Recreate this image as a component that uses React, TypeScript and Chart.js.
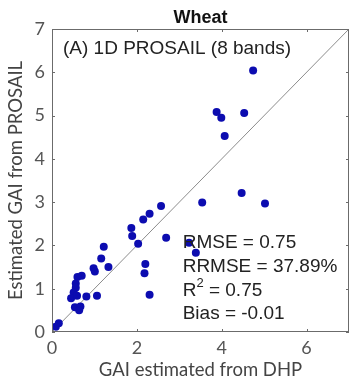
import React, { useEffect, useRef } from "react";
import { Chart, registerables } from "chart.js";

Chart.register(...registerables);

const xValues = [4.74, 3.88, 3.99, 4.53, 4.07, 4.47, 3.54, 5.02, 2.57, 2.30, 2.15, 1.87, 1.89, 2.69, 2.03, 3.23, 3.39, 1.22, 1.16, 1.33, 0.98, 1.01, 2.20, 2.18, 2.30, 0.70, 0.60, 0.56, 0.56, 0.51, 0.45, 0.59, 0.81, 1.06, 0.54, 0.67, 0.64, 0.16, 0.09];
const yValues = [6.04, 5.08, 4.95, 5.06, 4.53, 3.21, 2.99, 2.97, 2.91, 2.73, 2.60, 2.40, 2.22, 2.18, 2.04, 2.06, 1.83, 1.97, 1.70, 1.50, 1.47, 1.40, 1.57, 1.36, 0.86, 1.30, 1.27, 1.12, 1.02, 0.91, 0.78, 0.84, 0.82, 0.84, 0.57, 0.59, 0.50, 0.20, 0.12];
const identityLine = [0, 7];
const xTicks = [0, 2, 4, 6];
const yTicks = [0, 1, 2, 3, 4, 5, 6, 7];
const titleText = "Wheat";
const panelLabel = "(A) 1D PROSAIL (8 bands)";
const statsLines = ["RMSE = 0.75", "RRMSE = 37.89%", "R2 = 0.75", "Bias = -0.01"];

const AXIS_FONT = "Lato, 'Open Sans', sans-serif";
const TEXT_FONT = "'Liberation Sans', Arial, sans-serif";

const decorPlugin = {
  id: "decor",
  afterDatasetsDraw(chart: any) {
    const { ctx, chartArea: a, scales } = chart;
    const xs = scales.x;
    const ys = scales.y;
    ctx.save();
    // box
    ctx.strokeStyle = "#6b6b6b";
    ctx.lineWidth = 1;
    ctx.strokeRect(a.left + 0.5, a.top + 0.5, a.right - a.left - 1, a.bottom - a.top - 1);
    // inward ticks
    const tl = 3;
    ctx.beginPath();
    xTicks.forEach((v) => {
      const px = Math.round(xs.getPixelForValue(v)) + 0.5;
      ctx.moveTo(px, a.bottom);
      ctx.lineTo(px, a.bottom - tl);
      ctx.moveTo(px, a.top);
      ctx.lineTo(px, a.top + tl);
    });
    yTicks.forEach((v) => {
      const py = Math.round(ys.getPixelForValue(v)) + 0.5;
      ctx.moveTo(a.left, py);
      ctx.lineTo(a.left + tl, py);
      ctx.moveTo(a.right, py);
      ctx.lineTo(a.right - tl, py);
    });
    ctx.stroke();

    // title
    ctx.fillStyle = "#111";
    ctx.font = "bold 18px " + TEXT_FONT;
    ctx.textAlign = "center";
    ctx.textBaseline = "middle";
    ctx.fillText(titleText, (a.left + a.right) / 2, 18);

    // panel label
    ctx.fillStyle = "#222";
    ctx.font = "19px " + TEXT_FONT;
    ctx.textAlign = "left";
    ctx.fillText(panelLabel, a.left + 11, a.top + 20);

    // stats
    const sx = xs.getPixelForValue(3.08);
    const ysPos = [243, 267, 291, 314];
    statsLines.forEach((t, i) => {
      const y = ysPos[i];
      if (t.startsWith("R2")) {
        ctx.font = "19px " + TEXT_FONT;
        ctx.fillText("R", sx, y);
        const rw = ctx.measureText("R").width;
        ctx.font = "13px " + TEXT_FONT;
        ctx.fillText("2", sx + rw, y - 8);
        const tw = ctx.measureText("2").width;
        ctx.font = "19px " + TEXT_FONT;
        ctx.fillText(t.slice(2), sx + rw + tw, y);
      } else {
        ctx.fillText(t, sx, y);
      }
    });
    ctx.restore();
  },
};

export default function App() {
  const ref = useRef<HTMLCanvasElement | null>(null);
  useEffect(() => {
    if (!ref.current) return;
    const points = xValues.map((x, i) => ({ x, y: yValues[i] }));
    const chart = new Chart(ref.current, {
      type: "scatter",
      data: {
        datasets: [
          {
            type: "scatter",
            data: points,
            backgroundColor: "#0c0cb0",
            borderColor: "#0c0cb0",
            pointRadius: 4,
            borderWidth: 0,
            order: 1,
          },
          {
            type: "line",
            data: identityLine.map((v) => ({ x: v, y: v })),
            borderColor: "#8c8c8c",
            borderWidth: 1,
            pointRadius: 0,
            showLine: true,
            fill: false,
            order: 2,
          } as any,
        ],
      },
      options: {
        animation: false,
        responsive: false,
        devicePixelRatio: 1,
        layout: { padding: { top: 29, right: 1, left: 0, bottom: 0 } },
        plugins: { legend: { display: false }, tooltip: { enabled: false }, title: { display: false } },
        scales: {
          x: {
            type: "linear",
            min: 0,
            max: 7,
            afterBuildTicks: (s: any) => {
              s.ticks = xTicks.map((v) => ({ value: v }));
            },
            afterFit: (s: any) => {
              s.height = 47;
            },
            grid: { display: false, drawTicks: false },
            border: { display: false },
            ticks: {
              color: "#555",
              font: { family: AXIS_FONT, size: 18 },
              padding: 5,
              maxRotation: 0,
            },
            title: {
              display: true,
              text: "GAI estimated from DHP",
              color: "#444",
              font: { family: AXIS_FONT, size: 18.5, lineHeight: 1 },
              padding: { top: 0, bottom: 0 },
            },
          },
          y: {
            type: "linear",
            min: 0,
            max: 7,
            afterBuildTicks: (s: any) => {
              s.ticks = yTicks.map((v) => ({ value: v }));
            },
            afterFit: (s: any) => {
              s.width = 52;
            },
            grid: { display: false, drawTicks: false },
            border: { display: false },
            ticks: {
              color: "#555",
              font: { family: AXIS_FONT, size: 18 },
              padding: 7,
            },
            title: {
              display: true,
              text: "Estimated GAI from PROSAIL",
              color: "#444",
              font: { family: AXIS_FONT, size: 18.5, lineHeight: 1.2 },
              padding: { top: 5, bottom: 0 },
            },
          },
        },
      },
      plugins: [decorPlugin],
    });
    return () => chart.destroy();
  }, []);
  return (
    <div style={{ position: "fixed", left: 0, top: 0, width: 353, height: 379, background: "#fff" }}>
      <canvas ref={ref} width={353} height={379} style={{ width: 353, height: 379, display: "block" }} />
    </div>
  );
}
